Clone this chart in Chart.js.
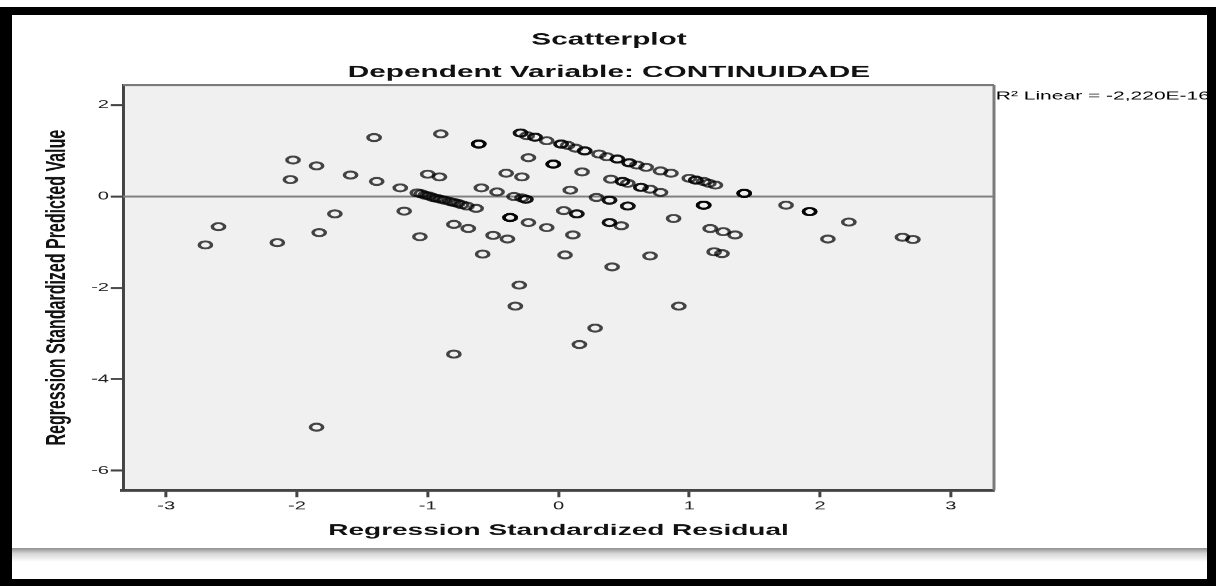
<!DOCTYPE html>
<html>
<head>
<meta charset="utf-8">
<script src="https://cdn.jsdelivr.net/npm/chart.js@4.4.1/dist/chart.umd.min.js"></script>
<style>
  html, body { margin: 0; padding: 0; background: #fff; width: 1218px; height: 586px; overflow: hidden; }
  #frame { position: absolute; left: 0; top: 7px; width: 1216px; height: 579px; box-sizing: border-box;
    border-style: solid; border-color: #000; border-width: 8px 9px 7px 12px; background: #fff; }
  #shade { position: absolute; left: 12px; top: 548px; width: 1195px; height: 14px;
    background: linear-gradient(#909090, #d6d6d6 40%, #fff); }
  #wrap { position: absolute; left: 0; top: 0; height: 586px; transform-origin: 0 0; }
</style>
</head>
<body>
<div id="frame"></div>
<div id="shade"></div>
<div id="wrap"><canvas id="scatter"></canvas></div>
<script>
// the source picture is stretched sideways, so the chart is drawn narrow and widened
const STRETCH = 1.75;

const xTicks = [-3, -2, -1, 0, 1, 2, 3];
const yTicks = [2, 0, -2, -4, -6];

// Regression Standardized Residual
const residual = [
  -1.41, -0.90, -2.03, -1.85, -2.05, -1.59, -1.39, -1.00, -0.91, -1.21,
  -2.60, -2.70, -2.15, -1.83, -1.71, -1.18, -1.06, -0.80, -0.69, -0.50,
  -0.39, -0.58, -0.30, -0.33, -0.80, -1.85,
  -1.08, -1.05, -1.02, -0.99, -0.96, -0.93, -0.90, -0.87, -0.83, -0.80, -0.77, -0.74, -0.70, -0.63,
  -0.29, -0.29, -0.24, -0.18, -0.18, -0.09, 0.02, 0.02, 0.07, 0.13, 0.20, 0.20, 0.31, 0.37,
  0.45, 0.45, 0.54, 0.54, 0.60, 0.67, 0.78, 0.86, 1.00, 1.05, 1.05, 1.11, 1.15, 1.20,
  -0.61, -0.61, -0.61, -0.23, -0.04, -0.04, -0.04, -0.40, -0.28, 0.18,
  0.40, 0.49, 0.49, 0.53, 0.63, 0.63, 0.70, 0.78,
  -0.59, -0.47, -0.34, -0.28, -0.25, -0.25, 0.09, 0.29, 0.39, 0.39, 0.53, 0.53,
  1.11, 1.11, 1.11, 1.42, 1.42, 1.42, 1.74, 1.92, 1.92, 1.92, 2.22, 2.06, 2.63, 2.71,
  -0.37, -0.37, -0.37, 0.04, 0.14, 0.14, -0.23, -0.09, 0.39, 0.39, 0.48, 0.88,
  0.11, 1.16, 1.26, 1.35, 0.05, 0.70, 1.19, 1.25, 0.41, 0.92, 0.28, 0.16
];

// Regression Standardized Predicted Value
const predicted = [
  1.29, 1.37, 0.80, 0.67, 0.37, 0.47, 0.33, 0.49, 0.43, 0.19,
  -0.66, -1.06, -1.01, -0.79, -0.38, -0.32, -0.88, -0.61, -0.70, -0.85,
  -0.93, -1.26, -1.94, -2.40, -3.45, -5.05,
  0.08, 0.06, 0.03, 0.01, -0.02, -0.04, -0.06, -0.08, -0.11, -0.13, -0.15, -0.18, -0.21, -0.26,
  1.39, 1.39, 1.33, 1.30, 1.30, 1.22, 1.15, 1.15, 1.12, 1.06, 1.00, 1.00, 0.93, 0.87,
  0.82, 0.82, 0.74, 0.74, 0.69, 0.64, 0.56, 0.51, 0.40, 0.36, 0.36, 0.33, 0.29, 0.25,
  1.15, 1.15, 1.15, 0.85, 0.71, 0.71, 0.71, 0.51, 0.43, 0.54,
  0.38, 0.33, 0.33, 0.29, 0.20, 0.20, 0.16, 0.09,
  0.19, 0.10, 0.00, -0.03, -0.06, -0.06, 0.14, -0.02, -0.08, -0.08, -0.21, -0.21,
  -0.19, -0.19, -0.19, 0.07, 0.07, 0.07, -0.19, -0.33, -0.33, -0.33, -0.56, -0.93, -0.89, -0.94,
  -0.46, -0.46, -0.46, -0.31, -0.38, -0.38, -0.57, -0.68, -0.57, -0.57, -0.64, -0.48,
  -0.84, -0.70, -0.77, -0.84, -1.28, -1.30, -1.21, -1.25, -1.54, -2.40, -2.88, -3.24
];

// linear fit line, R2 = -2,220E-16 (flat at zero)
const fitX = [-3.33, 3.33];
const fitY = [0, 0];
const r2Label = 'R\u00b2 Linear = -2,220E-16';

document.getElementById('wrap').style.width = (1218 / STRETCH) + 'px';
document.getElementById('wrap').style.transform = 'scaleX(' + STRETCH + ')';

Chart.defaults.font.family = '"Liberation Sans", Arial, sans-serif';

const plotFrame = {
  id: 'plotFrame',
  beforeDraw(chart) {
    const a = chart.chartArea;
    const ctx = chart.ctx;
    ctx.save();
    ctx.fillStyle = '#f0f0f0';
    ctx.fillRect(a.left, a.top, a.right - a.left, a.bottom - a.top);
    ctx.restore();
  },
  afterDraw(chart) {
    const a = chart.chartArea;
    const ctx = chart.ctx;
    ctx.save();
    ctx.strokeStyle = '#7a7a7a';
    ctx.lineWidth = 2;
    ctx.beginPath();
    ctx.moveTo(a.left, a.top);
    ctx.lineTo(a.right, a.top);
    ctx.stroke();
    ctx.lineWidth = 1.7;
    ctx.beginPath();
    ctx.moveTo(a.right, a.top);
    ctx.lineTo(a.right, a.bottom);
    ctx.stroke();
    ctx.fillStyle = '#000';
    ctx.font = '12px "Liberation Sans", Arial, sans-serif';
    ctx.textBaseline = 'middle';
    ctx.fillText(r2Label, a.right + 1, 96);
    ctx.restore();
  }
};

new Chart(document.getElementById('scatter'), {
  type: 'scatter',
  data: {
    datasets: [{
      label: 'cases',
      data: residual.map((x, i) => ({ x: x, y: predicted[i] })),
      pointStyle: 'circle',
      pointRadius: 3.5,
      pointBorderWidth: 2,
      pointBorderColor: 'rgba(0, 0, 0, 0.72)',
      pointBackgroundColor: 'rgba(0, 0, 0, 0)',
      order: 1
    }, {
      type: 'line',
      label: 'Linear',
      data: fitX.map((x, i) => ({ x: x, y: fitY[i] })),
      borderColor: '#808080',
      borderWidth: 2,
      pointRadius: 0,
      order: 2
    }]
  },
  options: {
    responsive: true,
    maintainAspectRatio: false,
    devicePixelRatio: STRETCH,
    animation: false,
    layout: { padding: { left: 0, right: 0, top: 0, bottom: 36 } },
    plugins: {
      legend: { display: false },
      tooltip: { enabled: false },
      title: {
        display: true,
        text: 'Scatterplot',
        color: '#111',
        font: { size: 17, weight: 'bold' },
        padding: { top: 29.5, bottom: 0 }
      },
      subtitle: {
        display: true,
        text: 'Dependent Variable: CONTINUIDADE',
        color: '#111',
        font: { size: 17, weight: 'bold' },
        padding: { top: 12.2, bottom: 2.5 }
      }
    },
    scales: {
      x: {
        type: 'linear',
        min: -3.33,
        max: 3.33,
        afterFit: s => { s.height = 60; },
        afterBuildTicks: s => { s.ticks = xTicks.map(v => ({ value: v })); },
        grid: { drawOnChartArea: false, tickLength: 7, tickColor: '#444', tickWidth: 1.7 },
        border: { color: '#444', width: 3 },
        ticks: { color: '#222', font: { size: 11.5 }, padding: 2, maxRotation: 0, autoSkip: false },
        title: {
          display: true,
          text: 'Regression Standardized Residual',
          color: '#111',
          font: { size: 16, weight: 'bold' },
          padding: { top: 0, bottom: 10 }
        }
      },
      y: {
        min: -6.43,
        max: 2.44,
        afterFit: s => { s.width = 70.3; },
        afterBuildTicks: s => { s.ticks = yTicks.map(v => ({ value: v })); },
        grid: { drawOnChartArea: false, tickLength: 7, tickColor: '#444', tickWidth: 2 },
        border: { color: '#444', width: 1.7 },
        ticks: { color: '#222', font: { size: 11.5 }, padding: 1 },
        title: {
          display: true,
          text: 'Regression Standardized Predicted Value',
          color: '#111',
          font: { size: 16, weight: 'bold' },
          padding: { top: 23, bottom: 0 }
        }
      },
      // empty space on the right that holds the R² note
      y2: {
        position: 'right',
        afterFit: s => { s.width = 128; },
        grid: { display: false },
        border: { display: false },
        ticks: { display: false }
      }
    }
  },
  plugins: [plotFrame]
});
</script>
</body>
</html>
